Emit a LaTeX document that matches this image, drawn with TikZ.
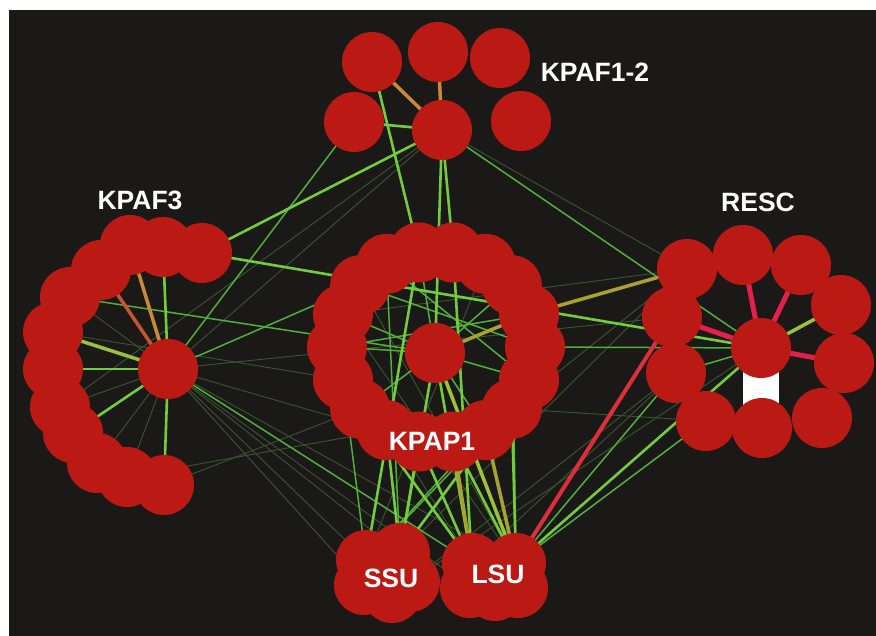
\documentclass[tikz,border=0pt]{standalone}
\usepackage{fontspec}
\setmainfont{Liberation Sans}
\pgfdeclarelayer{bgl}
\pgfdeclarelayer{edgel}
\pgfsetlayers{bgl,edgel,main}
\definecolor{bgc}{HTML}{1A1918}
\definecolor{nodec}{HTML}{BB1A14}
\definecolor{cO}{HTML}{C98A38}
\definecolor{cR}{HTML}{C4552E}
\definecolor{cY}{HTML}{9CC23A}
\definecolor{cOl}{HTML}{A9A232}
\definecolor{cP}{HTML}{E2204A}
\definecolor{cRed}{HTML}{DE2E3A}
\definecolor{cG}{HTML}{72CC3C}
\definecolor{cg}{HTML}{52B03A}
\definecolor{cd}{HTML}{3B5530}
\tikzset{
  nd/.style={circle, fill=nodec, minimum size=60pt, inner sep=0pt, draw=none},
  lbl/.style={text=white, font=\bfseries\fontsize{26.5}{26.5}\selectfont, anchor=base, inner sep=0pt},
  eO/.style={draw=cO, line width=3.5pt},
  eR/.style={draw=cR, line width=3.5pt},
  eY/.style={draw=cY, line width=3.5pt},
  eOl/.style={draw=cOl, line width=3.5pt},
  eP/.style={draw=cP, line width=5pt},
  eRed/.style={draw=cRed, line width=4pt},
  eG/.style={draw=cG, line width=2.6pt},
  eg/.style={draw=cg, line width=1.5pt},
  ed/.style={draw=cd, line width=0.9pt},
}
\begin{document}
\begin{tikzpicture}[x=1pt,y=-1pt]
\begin{pgfonlayer}{bgl}
\fill[white] (0,0) rectangle (876,636);
\fill[bgc] (9,10) rectangle (876,636);
\end{pgfonlayer}
\useasboundingbox (0,0) rectangle (876,636);
% KPAF1-2
\node[nd] (a1) at (372,62) {};
\node[nd] (a2) at (438,52) {};
\node[nd] (a3) at (500,58) {};
\node[nd] (a4) at (354,122) {};
\node[nd] (a5) at (442,130) {};
\node[nd] (a6) at (521,121) {};
% KPAF3
\node[nd] (f0) at (168,369) {};
\node[nd] (f1) at (202,253) {};
\node[nd] (f2) at (163,247) {};
\node[nd] (f3) at (130,245) {};
\node[nd] (f4) at (101,270) {};
\node[nd] (f5) at (70,297) {};
\node[nd] (f6) at (53,332) {};
\node[nd] (f7) at (53,369) {};
\node[nd] (f8) at (60,407) {};
\node[nd] (f9) at (73,433) {};
\node[nd] (f10) at (97,463) {};
\node[nd] (f11) at (127,477) {};
\node[nd] (f12) at (164,485) {};
% KPAP1
\node[nd] (p0) at (435,353) {};
\foreach \i in {1,...,18} {
  \pgfmathsetmacro\ang{60+20*\i}
  \node[nd] (p\i) at ({436+99*cos(\ang)},{347-96*sin(\ang)}) {};
}
% RESC
\node[nd] (r0) at (761,348) {};
\node[nd] (r1) at (687,269) {};
\node[nd] (r2) at (743,255) {};
\node[nd] (r3) at (801,265) {};
\node[nd] (r4) at (841,305) {};
\node[nd] (r5) at (844,363) {};
\node[nd] (r6) at (822,418) {};
\node[nd] (r7) at (762,428) {};
\node[nd] (r8) at (706,421) {};
\node[nd] (r9) at (676,373) {};
\node[nd] (r10) at (672,317) {};
% SSU
\node[nd] (s1) at (366,560) {};
\node[nd] (s2) at (400,553) {};
\node[nd] (s3) at (410,582) {};
\node[nd] (s4) at (364,585) {};
\node[nd] (s5) at (392,593) {};
% LSU
\node[nd] (l1) at (472,563) {};
\node[nd] (l2) at (516,563) {};
\node[nd] (l3) at (518,588) {};
\node[nd] (l4) at (470,588) {};
\node[nd] (l5) at (495,591) {};
% edges
\begin{pgfonlayer}{edgel}
\foreach \a/\b in {a5/r1,a5/f0,a5/f8,f0/f10,f0/f11,f0/f8,f0/f5,f0/s1,f0/s4,f0/s2,f0/l4,f0/l2,f12/p8,r8/l2,r9/s3,r10/l2,r1/s2,r10/f0,r1/p5,r0/s3,p5/l2,p6/l1,f6/p7,p18/s1,r8/p13,r9/l1,f11/p9,f0/p10,p4/l2,r1/p12}
  \draw[ed] (\a.center) -- (\b.center);
\foreach \a/\b in {a4/f0,a5/r0,f0/p4,f5/p0,f0/l1,p0/p2,p0/p5,p0/p6,p0/p8,p0/p12,p0/p14,p0/p17,p3/p14,p6/p16,p4/p15,p15/r0,r9/r0,r9/l2,p7/s1,p12/s1,p3/s2,p17/l2,r8/l2,p13/s1}
  \draw[eg] (\a.center) -- (\b.center);
\foreach \a/\b in {a5/a4,a5/f1,a1/p2,a5/p1,a5/p0,f0/f2,f0/f7,f0/f9,f0/f12,f1/r0,r0/l2,p9/s2,p10/s2,p0/s2,p13/l2,p1/l1,p2/s1,p11/l2,p10/l1,p8/l1,p0/l1,p14/s2}
  \draw[eG] (\a.center) -- (\b.center);
\foreach \a/\b in {a5/a1,a5/a2,f0/f3}
  \draw[eO] (\a.center) -- (\b.center);
\draw[eR] (f0.center) -- (f4.center);
\foreach \a/\b in {f0/f6,r0/r4,p0/l2}
  \draw[eY] (\a.center) -- (\b.center);
\foreach \a/\b in {p16/r1,p0/p16,p11/l1,p12/l2}
  \draw[eOl] (\a.center) -- (\b.center);
\foreach \a/\b in {r0/r2,r0/r3,r0/r10,r0/r5}
  \draw[eP] (\a.center) -- (\b.center);
\draw[eRed] (l2.center) -- (r10.center);
\fill[white] (743,360) rectangle (779,412);
\end{pgfonlayer}
% labels
\node[lbl] (t1) at (595,82) {KPAF1-2};
\node[lbl] (t2) at (140,210) {KPAF3};
\node[lbl] (t3) at (758,212) {RESC};
\node[lbl] (t4) at (432,450) {KPAP1};
\node[lbl] (t5) at (391,587) {SSU};
\node[lbl] (t6) at (498,583) {LSU};
\end{tikzpicture}
\end{document}
